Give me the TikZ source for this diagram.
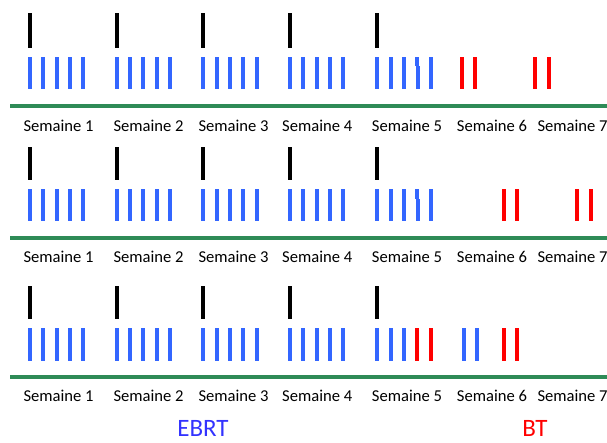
\documentclass[tikz,border=0pt]{standalone}
\usepackage{fontspec}
\setmainfont{Carlito}
\definecolor{ebrtblue}{RGB}{51,102,255}
\definecolor{btred}{RGB}{255,0,0}
\definecolor{axisgreen}{RGB}{46,139,87}
\definecolor{labelblue}{RGB}{51,51,255}
\begin{document}
\begin{tikzpicture}[x=1pt,y=-1pt,
  ebrtbar/.style={draw=ebrtblue,line width=4pt},
  btbar/.style={draw=btred,line width=4pt},
  chemobar/.style={draw=black,line width=4pt},
  axisline/.style={draw=axisgreen,line width=3.5pt},
  weeklbl/.style={inner sep=0pt,anchor=base west,font=\fontsize{16.6}{20}\selectfont},
  legend/.style={inner sep=0pt,anchor=base,font=\fontsize{25}{30}\selectfont}]
\useasboundingbox (0,0) rectangle (607,442);
\foreach \r/\kt/\kb/\bt/\bb/\gy/\ly in {1/13/48/57/89/106/131, 2/147/180/189/221/238/262, 3/286/319/328/361/377/401}{
  % green time axis
  \draw[axisline] (10,\gy) -- (607,\gy);
  % weekly black bars
  \foreach \x in {30,116.7,203.3,290,377.3}{
    \draw[chemobar] (\x,\kt) -- (\x,\kb);
  }
  % EBRT weeks 1-4
  \foreach \x in {30,116.7,203.3,290}{
    \foreach \d in {0,13.3,26.7,40,53.3}{
      \draw[ebrtbar] (\x+\d,\bt) -- (\x+\d,\bb);
    }
  }
  % week 5 first three
  \foreach \x in {377.3,390.7,404.3}{
    \draw[ebrtbar] (\x,\bt) -- (\x,\bb);
  }
  % labels
  \foreach \w/\x in {1/23.3,2/113.3,3/198.3,4/282,5/371.7,6/456.7,7/537.3}{
    \node[weeklbl] (s\r w\w) at (\x,\ly) {Semaine \w};
  }
}
% row 1 specifics
\draw[ebrtbar] (416.8,57) -- (416.8,66);
\draw[ebrtbar] (418.2,66) -- (418.2,89);
\draw[ebrtbar] (431,57) -- (431,89);
\foreach \x in {462.3,475,535.3,548.7}{\draw[btbar] (\x,57) -- (\x,89);}
% row 2 specifics
\draw[ebrtbar] (416.8,189) -- (416.8,199);
\draw[ebrtbar] (418.2,199) -- (418.2,221);
\draw[ebrtbar] (431,189) -- (431,221);
\foreach \x in {504,517,577.3,590.7}{\draw[btbar] (\x,189) -- (\x,221);}
% row 3 specifics
\foreach \x in {417.3,431,504,517}{\draw[btbar] (\x,328) -- (\x,361);}
\foreach \x in {464,477.3}{\draw[ebrtbar] (\x,328) -- (\x,361);}
% legend
\node[legend,text=labelblue] (ebrt) at (203,436) {EBRT};
\node[legend,text=btred] (bt) at (535,436) {BT};
\end{tikzpicture}
\end{document}
